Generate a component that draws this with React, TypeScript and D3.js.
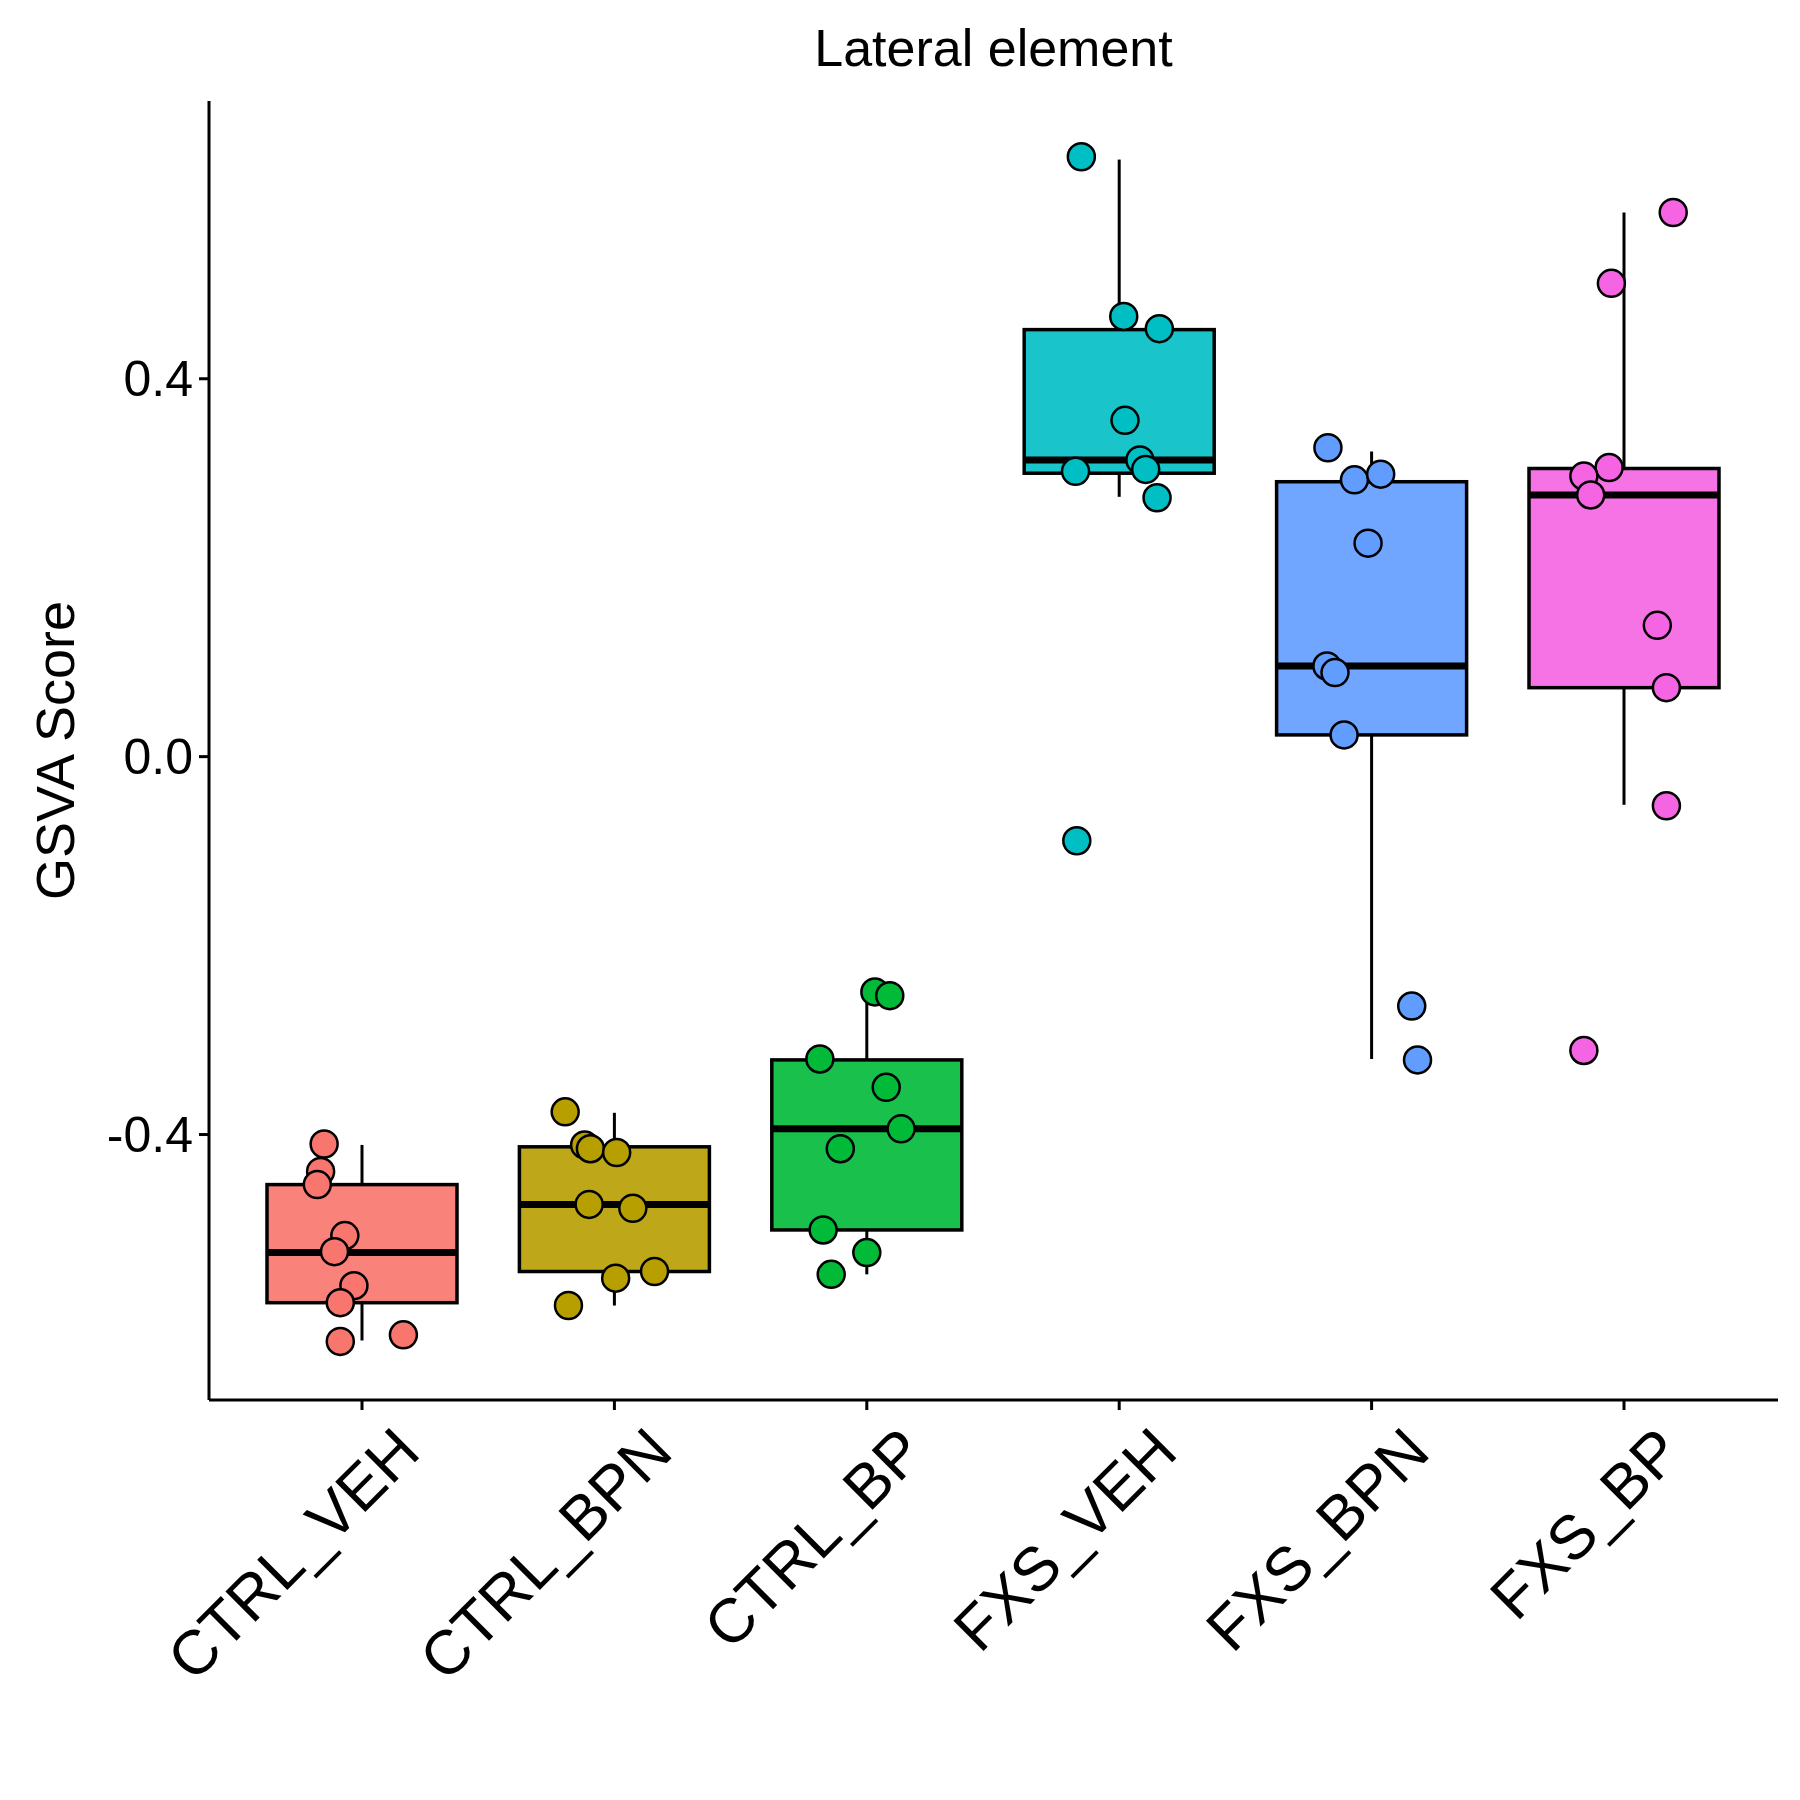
import * as d3 from 'd3';

const groups = ['CTRL_VEH', 'CTRL_BPN', 'CTRL_BP', 'FXS_VEH', 'FXS_BPN', 'FXS_BP'];
const colors = ['#F8766D', '#B79F00', '#00BA38', '#00BFC4', '#619CFF', '#F564E3'];
const yTicks = [-0.4, 0.0, 0.4];

// [lowWhisker, q1, median, q3, highWhisker]
const boxStats: number[][] = [
  [-0.618, -0.578, -0.525, -0.453, -0.411],
  [-0.581, -0.545, -0.474, -0.413, -0.377],
  [-0.548, -0.501, -0.394, -0.321, -0.252],
  [0.275, 0.300, 0.314, 0.452, 0.632],
  [-0.320, 0.023, 0.096, 0.291, 0.323],
  [-0.051, 0.073, 0.277, 0.305, 0.576],
];

// points: [jitter offset (in band units), value]
const points: [number, number][][] = [
  [[-0.15, -0.41], [-0.164, -0.439], [-0.177, -0.453], [-0.068, -0.507], [-0.109, -0.524], [-0.032, -0.56], [-0.086, -0.578], [-0.086, -0.619], [0.164, -0.612]],
  [[-0.195, -0.376], [-0.118, -0.411], [-0.095, -0.415], [0.009, -0.419], [-0.1, -0.474], [0.073, -0.478], [0.005, -0.552], [0.159, -0.545], [-0.182, -0.581]],
  [[0.032, -0.249], [0.091, -0.253], [-0.186, -0.32], [0.077, -0.35], [0.136, -0.394], [-0.105, -0.415], [-0.173, -0.501], [0.0, -0.525], [-0.141, -0.548]],
  [[-0.15, 0.635], [0.018, 0.466], [0.159, 0.453], [0.023, 0.356], [0.082, 0.314], [0.105, 0.304], [-0.173, 0.302], [0.15, 0.274], [-0.168, -0.089]],
  [[-0.173, 0.327], [-0.068, 0.293], [0.036, 0.299], [-0.014, 0.226], [-0.177, 0.096], [-0.145, 0.089], [-0.109, 0.023], [0.159, -0.264], [0.182, -0.321]],
  [[0.195, 0.576], [-0.05, 0.501], [-0.059, 0.306], [-0.159, 0.297], [-0.132, 0.277], [0.132, 0.139], [0.168, 0.073], [0.168, -0.052], [-0.159, -0.311]],
];

const W = 1800, H = 1800;
const left = 201, right = 1770, top = 93, bottom = 1392;
const font = 'Liberation Sans, Arial, sans-serif';

export default function App() {
  const x = d3.scalePoint<string>().domain(groups).range([354, 1616]);
  const step = x.step();
  const y = d3.scaleLinear().domain([-0.681, 0.694]).range([bottom, top]);
  const bw = 190;

  return (
    <svg width={W} height={H} viewBox={`0 0 ${W} ${H}`} style={{ display: 'block' }}>
      <rect width={W} height={H} fill="#fff" />
      <text x={(left + right) / 2} y={58} textAnchor="middle" fontSize={52} fontFamily={font}>Lateral element</text>
      {groups.map((g, i) => {
        const [lo, q1, med, q3, hi] = boxStats[i];
        const cx = x(g)!;
        return (
          <g key={g}>
            <line x1={cx} x2={cx} y1={y(hi)} y2={y(q3)} stroke="#000" strokeWidth={3} />
            <line x1={cx} x2={cx} y1={y(q1)} y2={y(lo)} stroke="#000" strokeWidth={3} />
            <rect x={cx - bw / 2} y={y(q3)} width={bw} height={y(q1) - y(q3)} fill={colors[i]} fillOpacity={0.9} stroke="#000" strokeWidth={3.5} />
            <line x1={cx - bw / 2} x2={cx + bw / 2} y1={y(med)} y2={y(med)} stroke="#000" strokeWidth={7} />
            {points[i].map(([j, v], k) => (
              <circle key={k} cx={cx + j * step} cy={y(v)} r={13.5} fill={colors[i]} stroke="#000" strokeWidth={2.5} />
            ))}
          </g>
        );
      })}
      <line x1={left} x2={left} y1={top} y2={bottom} stroke="#000" strokeWidth={3} />
      <line x1={left} x2={right} y1={bottom} y2={bottom} stroke="#000" strokeWidth={3} />
      {yTicks.map((t) => (
        <g key={t}>
          <line x1={left - 10} x2={left} y1={y(t)} y2={y(t)} stroke="#000" strokeWidth={3} />
          <text x={left - 16} y={y(t)} dy="0.35em" textAnchor="end" fontSize={50} fontFamily={font}>{t.toFixed(1)}</text>
        </g>
      ))}
      {groups.map((g) => (
        <g key={g}>
          <line x1={x(g)!} x2={x(g)!} y1={bottom} y2={bottom + 10} stroke="#000" strokeWidth={3} />
          <text transform={`translate(${x(g)! + 30},${bottom + 24}) rotate(-45)`} textAnchor="end" dy="0.7em" fontSize={62} fontFamily={font}>{g}</text>
        </g>
      ))}
      <text transform={`translate(66,${(top + bottom) / 2}) rotate(-90)`} textAnchor="middle" fontSize={54} fontFamily={font}>GSVA Score</text>
    </svg>
  );
}
